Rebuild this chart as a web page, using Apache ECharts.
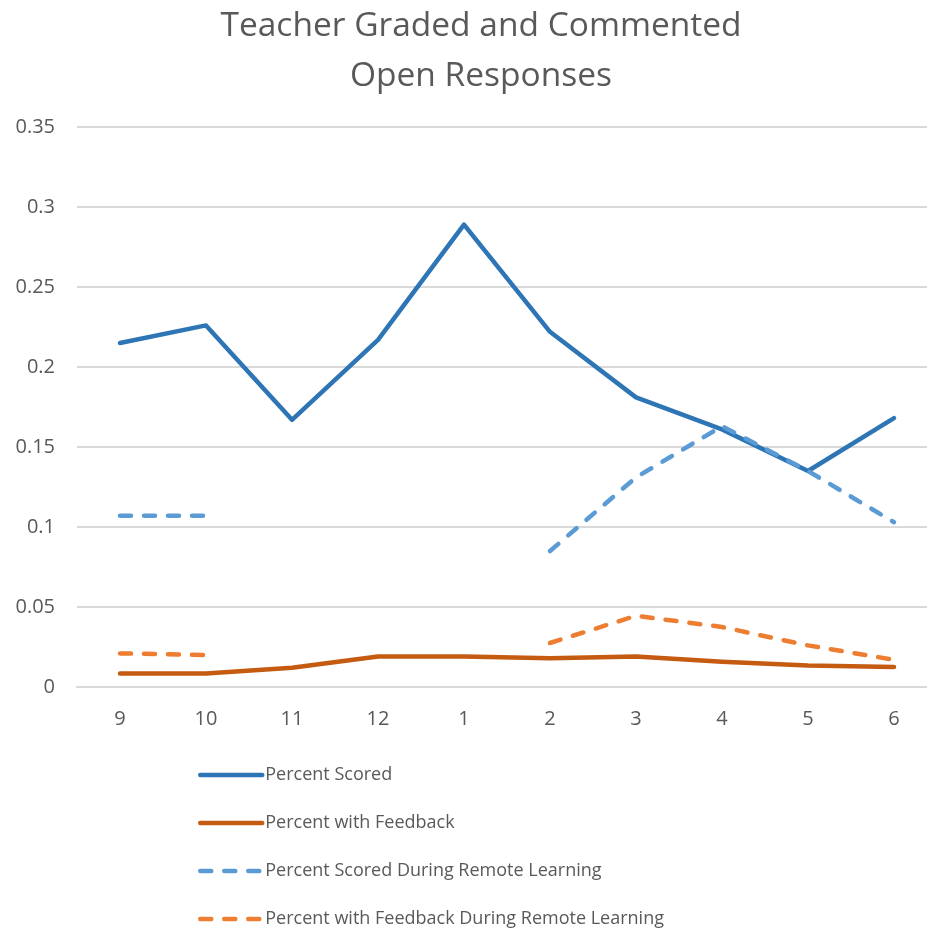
<!DOCTYPE html>
<html>
<head>
<meta charset="utf-8">
<script src="https://cdn.jsdelivr.net/npm/echarts@6/dist/echarts.min.js"></script>
<style>html,body{margin:0;padding:0;background:#fff}#c{width:927px;height:930px}</style>
</head>
<body>
<div id="c"></div>
<script>
var categories = ['9','10','11','12','1','2','3','4','5','6'];
var percentScored = [0.215,0.226,0.167,0.217,0.289,0.222,0.181,0.161,0.135,0.168];
var percentFeedback = [0.0085,0.0085,0.012,0.019,0.019,0.018,0.019,0.0158,0.0135,0.0125];
var remoteScored = [0.107,0.107,null,null,null,0.085,0.131,0.163,0.135,0.103];
var remoteFeedback = [0.021,0.020,null,null,null,0.0275,0.0445,0.0375,0.026,0.017];
var seriesNames = ['Percent Scored','Percent with Feedback','Percent Scored During Remote Learning','Percent with Feedback During Remote Learning'];

var font = 'Open Sans';
var txt = '#595959';
var chart = echarts.init(document.getElementById('c'));
function mk(name, data, color, dashed) {
  return {
    name: name, type: 'line', data: data, symbol: 'none', connectNulls: false,
    lineStyle: {color: color, width: 4.5, type: dashed ? [11, 13] : 'solid', cap: 'round', join: 'round'},
    itemStyle: {color: color},
    emphasis: {disabled: true}
  };
}
chart.setOption({
  animation: false,
  title: {
    text: 'Teacher Graded and Commented\nOpen Responses',
    left: 476, top: -4, textAlign: 'center',
    textStyle: {fontFamily: font, fontSize: 33.5, fontWeight: 'normal', color: txt, lineHeight: 50}
  },
  legend: {
    orient: 'vertical', left: 198, top: 764, padding: 0, height: 166,
    itemWidth: 62, itemHeight: 22, itemGap: 26,
    itemStyle: {opacity: 0},
    lineStyle: {width: 4.5, cap: 'round'},
    textStyle: {fontFamily: font, fontSize: 18, color: txt, padding: [0, 0, 0, -2], lineHeight: 22},
    data: seriesNames
  },
  grid: {left: 77, top: 127, width: 860, height: 560, containLabel: false, outerBoundsMode: 'none'},
  xAxis: {
    type: 'category', data: categories, boundaryGap: true,
    axisLine: {show: true, lineStyle: {color: '#d9d9d9', width: 2}},
    axisTick: {show: false},
    axisLabel: {fontFamily: font, fontSize: 20, color: txt, margin: 22}
  },
  yAxis: {
    type: 'value', min: 0, max: 0.35, interval: 0.05,
    axisLine: {show: false}, axisTick: {show: false},
    splitLine: {lineStyle: {color: '#d9d9d9', width: 2}},
    axisLabel: {fontFamily: font, fontSize: 20, color: txt, margin: 22,
      formatter: function (v) { return String(+v.toFixed(2)); }}
  },
  series: [
    mk(seriesNames[0], percentScored, '#2E75B6', false),
    mk(seriesNames[1], percentFeedback, '#C55A11', false),
    mk(seriesNames[2], remoteScored, '#5B9BD5', true),
    mk(seriesNames[3], remoteFeedback, '#ED7D31', true)
  ]
});
</script>
</body>
</html>
